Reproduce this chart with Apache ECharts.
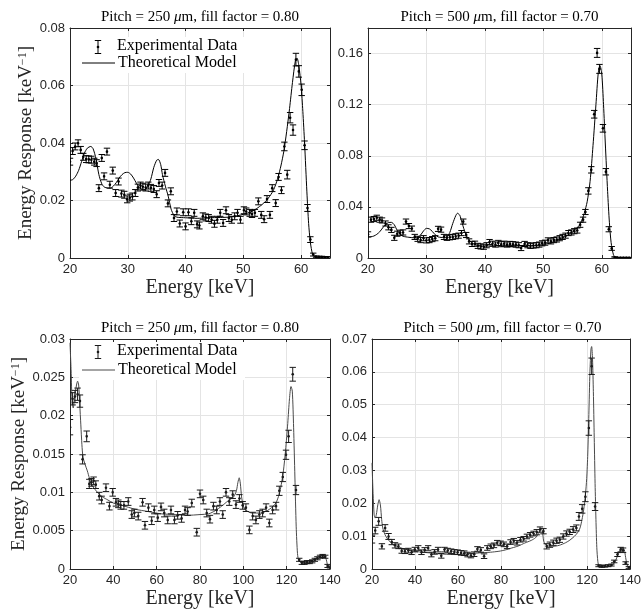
<!DOCTYPE html>
<html><head><meta charset="utf-8">
<script src="https://cdn.jsdelivr.net/npm/echarts@6/dist/echarts.min.js"></script>
<style>html,body{margin:0;padding:0;background:#fff}#c{width:644px;height:615px}</style>
</head><body><div id="c"></div>
<script>
// ---------- Panel titles ----------
const titleA = ['Pitch = 250 ', 'm, fill factor = 0.80'];
const titleB = ['Pitch = 500 ', 'm, fill factor = 0.70'];
const legendNames = ['Experimental Data', 'Theoretical Model'];
const xName = 'Energy [keV]';

// ---------- Top-left: 250 um, Am-241 ----------
const tlE = [20.0,20.45,20.9,21.4,21.85,22.3,22.8,23.25,23.7,24.2,24.6,25.0,25.5,25.9,26.4,26.9,27.4,27.9,28.4,28.9,29.4,29.9,30.35,30.8,31.3,31.75,32.2,32.6,33.1,33.55,34.0,34.5,35.0,35.4,35.95,36.45,36.95,37.45,38.0,38.5,39.0,39.6,40.0,40.5,41.0,41.5,42.0,42.4,43.0,43.5,44.0,44.5,45.0,45.5,46.0,46.5,47.0,47.5,48.0,48.5,49.0,49.5,50.1,50.5,51.1,51.5,52.0,52.6,53.1,53.6,54.1,54.6,55.0,55.6,56.1,56.6,57.1,57.6,58.1,58.6,59.1,59.6,60.1,60.6,61.1,61.6,62.1,62.6,63.1,63.6,64.1,64.6];
const tlY = [.0335,.0372,.0388,.0399,.0376,.0352,.0344,.0343,.0342,.0335,.0330,.0243,.0348,.0284,.0370,.0255,.0304,.0226,.0266,.0224,.0220,.0204,.0210,.0214,.0226,.0245,.0252,.0248,.0245,.0252,.0244,.0240,.0222,.0261,.0252,.0296,.0190,.0232,.0139,.0162,.0120,.0159,.0110,.0159,.0128,.0157,.0117,.0113,.0145,.0141,.0139,.0133,.0119,.0133,.0157,.0122,.0166,.0139,.0133,.0145,.0157,.0133,.0166,.0162,.0157,.0153,.0157,.0197,.0150,.0135,.0205,.0150,.0243,.0191,.0282,.0236,.0388,.0290,.0488,.0445,.0690,.0649,.0585,.0392,.0174,.0064,.0012,.0004,.0003,.0003,.0002,.0002];
const tlErr = [.0012,.0012,.0012,.0012,.0012,.0012,.0012,.0012,.0012,.0012,.0012,.0012,.0012,.0012,.0012,.0012,.0012,.0012,.0012,.0012,.0012,.0012,.0012,.0012,.0012,.0012,.0012,.0012,.0012,.0012,.0012,.0012,.0012,.0012,.0012,.0012,.0012,.0012,.0012,.0012,.0012,.0012,.0012,.0012,.0012,.0012,.0012,.0012,.0012,.0012,.0012,.0012,.0012,.0012,.0012,.0012,.0012,.0012,.0012,.0012,.0012,.0012,.0012,.0012,.0012,.0012,.0012,.0012,.0012,.0012,.0012,.0012,.0012,.0012,.0012,.0012,.0015,.0015,.0018,.0018,.0022,.0020,.0020,.0015,.0012,.0010,.0005,.0003,.0003,.0003,.0003,.0003];
const tlME = [20,20.5,21,21.5,22,22.5,23,23.6,24,24.5,25,25.5,26,27,27.5,28,28.5,29,29.5,30,30.5,31,31.5,32,32.5,33,33.5,34,34.5,35,35.3,35.7,36,36.5,37,37.5,38,38.5,40,42,44,46,48,50,51,52,53,54,55,55.5,56,56.5,57,57.5,58,58.5,59,59.3,59.6,60,60.3,60.6,61,61.3,61.6,62,62.5,63,65];
const tlMY = [.0270,.0273,.0285,.0305,.0335,.0365,.0382,.0388,.0380,.0345,.0290,.0258,.0246,.0243,.0250,.0262,.0278,.0290,.0297,.0298,.0292,.0278,.0260,.0246,.0238,.0238,.0250,.0275,.0315,.0340,.0343,.0325,.0290,.0250,.0215,.0170,.0148,.0142,.0140,.0138,.0140,.0141,.0143,.0152,.0158,.0168,.0182,.0200,.0228,.0250,.0280,.0320,.0370,.0440,.0520,.0610,.0685,.0695,.0670,.0600,.0510,.0400,.0230,.0120,.0055,.0012,.0002,0,0];

// ---------- Top-right: 500 um, Am-241 ----------
const trE = [20.0,20.5,21.0,21.5,22.0,22.4,23.0,23.5,24.0,24.5,25.0,25.5,26.0,26.5,27.0,27.5,28.0,28.5,29.0,29.5,30.0,30.5,31.0,31.5,32.0,32.5,33.0,33.5,34.0,34.5,35.0,35.5,36.0,36.3,36.8,37.3,37.8,38.3,38.8,39.3,39.8,40.3,40.8,41.3,41.8,42.3,42.8,43.3,43.8,44.3,44.8,45.3,45.8,46.2,46.8,47.3,47.8,48.3,48.8,49.3,49.8,50.3,50.8,51.3,51.8,52.3,52.8,53.3,53.8,54.3,54.8,55.3,55.8,56.3,56.8,57.2,57.7,58.2,58.7,59.2,59.6,60.2,60.7,61.2,61.7,62.2,62.7,63.2,63.7,64.2,64.7];
const trY = [.0185,.0300,.0305,.0315,.0300,.0294,.0270,.0240,.0220,.0158,.0190,.0198,.0200,.0285,.0250,.0230,.0165,.0150,.0140,.0155,.0138,.0140,.0148,.0155,.0228,.0222,.0165,.0158,.0162,.0165,.0170,.0175,.0195,.0285,.0180,.0130,.0110,.0112,.0095,.0090,.0088,.0100,.0125,.0112,.0105,.0118,.0108,.0112,.0105,.0110,.0108,.0105,.0100,.0078,.0110,.0100,.0095,.0098,.0100,.0105,.0115,.0120,.0138,.0130,.0140,.0145,.0155,.0165,.0175,.0195,.0200,.0210,.0215,.0260,.0300,.0360,.0525,.0690,.1125,.1605,.1480,.1015,.0675,.0225,.0075,.0005,.0002,.0002,.0002,.0002,.0002];
const trErr = [.002,.002,.002,.002,.002,.002,.002,.002,.002,.002,.002,.002,.002,.002,.002,.002,.002,.002,.002,.002,.002,.002,.002,.002,.002,.002,.002,.002,.002,.002,.002,.002,.002,.002,.002,.002,.002,.002,.002,.002,.002,.002,.002,.002,.002,.002,.002,.002,.002,.002,.002,.002,.002,.002,.002,.002,.002,.002,.002,.002,.002,.002,.002,.002,.002,.002,.002,.002,.002,.002,.002,.002,.002,.002,.002,.002,.0025,.0025,.003,.0035,.0035,.003,.0025,.002,.0015,.0005,.0003,.0003,.0003,.0003,.0003];
const trME = [20,20.5,21,21.5,22,22.5,23,23.5,24,24.5,25,25.5,26,27,28,28.5,29,29.5,30,30.5,31,31.5,32,33,33.5,34,34.5,35,35.3,35.7,36,36.5,37,37.5,38,39,40,42,44,46,48,49,50,51,52,53,54,55,56,56.5,57,57.5,58,58.5,59,59.4,59.7,60,60.3,60.6,61,61.3,61.6,62,62.4,63,65];
const trMY = [.0164,.0166,.0172,.0185,.0205,.0235,.0262,.0277,.0279,.0260,.0215,.0185,.0170,.0162,.0158,.0162,.0180,.0212,.0232,.0228,.0208,.0182,.0165,.0160,.0165,.0200,.0270,.0330,.0350,.0335,.0290,.0215,.0160,.0130,.0112,.0097,.0093,.0095,.0097,.0097,.0096,.0098,.0104,.0115,.0132,.0152,.0175,.0205,.0247,.0285,.0350,.0440,.0600,.0880,.1200,.1450,.1505,.1440,.1200,.0900,.0520,.0280,.0120,.0025,.0003,0,0];

// ---------- Bottom-left: 250 um, Co-57 ----------
const blE = [20.0,21.2,22.3,23.5,24.6,25.8,27.7,28.9,29.9,30.9,31.9,33.5,34.6,36.6,38.2,39.7,41.2,42.3,43.4,44.9,46.9,48.5,49.7,51.5,53.5,54.6,56.2,57.7,58.9,60.5,62.0,63.5,65.1,66.6,68.2,69.7,71.5,73.1,74.3,76.2,78.5,80.0,81.5,83.1,84.6,86.2,87.7,89.2,90.5,92.0,93.5,95.1,96.6,98.2,99.7,101.2,102.8,104.3,105.8,107.4,108.9,110.5,112.0,113.5,115.1,116.6,118.2,119.7,120.9,122.8,124.3,125.8,127.0,128.2,129.4,130.6,131.8,133.0,134.2,135.4,136.6,137.8,138.9,140.0];
const blY = [.0185,.0222,.0225,.0228,.0219,.0143,.0173,.0111,.0113,.0115,.0110,.0095,.0090,.0106,.0082,.0100,.0087,.0085,.0083,.0083,.0088,.0071,.0073,.0069,.0087,.0057,.0080,.0063,.0077,.0067,.0081,.0073,.0064,.0077,.0064,.0070,.0066,.0077,.0075,.0086,.0048,.0098,.0090,.0073,.0065,.0082,.0077,.0088,.0071,.0100,.0088,.0097,.0084,.0092,.0083,.0080,.0051,.0069,.0064,.0071,.0073,.0080,.0060,.0077,.0082,.0102,.0120,.0149,.0173,.0254,.0103,.0012,.0008,.0008,.0009,.0009,.0010,.0012,.0014,.0016,.0017,.0016,.0004,.0002];
const blErr = [.0010,.0008,.0008,.0008,.0008,.0006,.0007,.0006,.0005,.0005,.0005,.0005,.0005,.0005,.0005,.0005,.0005,.0005,.0005,.0005,.0005,.0005,.0005,.0005,.0005,.0005,.0005,.0005,.0005,.0005,.0005,.0005,.0005,.0005,.0005,.0005,.0005,.0005,.0005,.0005,.0005,.0005,.0005,.0005,.0005,.0005,.0005,.0005,.0005,.0005,.0005,.0005,.0005,.0005,.0005,.0005,.0005,.0005,.0005,.0005,.0005,.0005,.0005,.0005,.0005,.0006,.0006,.0006,.0008,.0009,.0006,.0002,.0002,.0002,.0002,.0002,.0002,.0002,.0002,.0002,.0002,.0002,.0002,.0002];
const blME = [20,20.5,21,21.5,22,23,23.5,24,24.5,25,25.5,26,27,28,29,30,31.5,33,35,37.5,40,44,50,56,62,68,74,80,84,87,90,93,95.5,96.8,97.5,98.1,98.6,99.2,100,101,104,108,111,113,115,116.5,117.5,118.5,119.5,120.5,121.3,122,122.6,123.2,123.8,124.4,125,125.6,127,129,131,133,135,136.5,137.5,138.3,139,140];
const blMY = [.0295,.0260,.0215,.0210,.0222,.0240,.0245,.0240,.0215,.0188,.0162,.0146,.0136,.0128,.0118,.0110,.0104,.0099,.0094,.0090,.0086,.0083,.0078,.0075,.0072,.0071,.0070,.0071,.0072,.0076,.0082,.0089,.0094,.0102,.0113,.0119,.0112,.0094,.0082,.0077,.0073,.0073,.0076,.0080,.0086,.0097,.0110,.0128,.0155,.0190,.0222,.0238,.0232,.0185,.0120,.0055,.0020,.0011,.0008,.0008,.0010,.0013,.0016,.0018,.0018,.0012,.0004,.0002];

// ---------- Bottom-right: 500 um, Co-57 ----------
const brE = [20.0,21.5,23.1,24.6,26.1,27.7,29.2,30.7,32.3,33.8,35.3,36.9,38.4,39.9,41.5,43.0,44.5,46.1,47.6,49.1,50.7,52.2,53.7,55.2,56.8,58.3,59.8,61.4,62.9,64.4,66.0,67.5,69.0,70.6,72.1,73.6,75.2,76.7,78.2,79.8,81.3,82.8,84.4,85.9,87.4,89.0,90.5,92.0,93.5,95.1,96.6,98.1,99.7,101.2,102.7,104.3,105.8,107.3,108.9,110.4,111.9,113.5,115.0,116.2,117.7,119.2,120.8,122.1,123.7,125.3,126.8,128.3,129.8,131.3,132.6,134.1,135.6,136.7,137.9,139.4];
const brY = [.0091,.0117,.0145,.0069,.0125,.0099,.0082,.0072,.0069,.0055,.0054,.0056,.0051,.0059,.0064,.0051,.0058,.0064,.0044,.0052,.0059,.0040,.0059,.0056,.0054,.0052,.0051,.0049,.0048,.0044,.0041,.0045,.0061,.0058,.0039,.0064,.0069,.0072,.0080,.0078,.0075,.0069,.0082,.0086,.0080,.0089,.0092,.0099,.0104,.0108,.0112,.0120,.0115,.0069,.0074,.0080,.0086,.0089,.0099,.0108,.0113,.0120,.0125,.0160,.0183,.0220,.0429,.0617,.0190,.0010,.0008,.0009,.0010,.0012,.0023,.0044,.0059,.0057,.0018,.0005];
const brErr = [.0012,.0010,.0012,.0008,.0010,.0009,.0008,.0008,.0007,.0007,.0007,.0007,.0007,.0007,.0007,.0007,.0007,.0007,.0007,.0007,.0007,.0007,.0007,.0007,.0007,.0007,.0007,.0007,.0007,.0007,.0007,.0007,.0007,.0007,.0007,.0007,.0007,.0007,.0007,.0007,.0007,.0007,.0007,.0007,.0007,.0007,.0007,.0007,.0007,.0007,.0008,.0008,.0008,.0008,.0008,.0008,.0008,.0008,.0008,.0008,.0008,.0009,.0009,.0012,.0013,.0015,.0022,.0025,.0012,.0003,.0003,.0003,.0003,.0003,.0004,.0006,.0007,.0007,.0004,.0003];
const brME = [20,20.5,21,21.5,22,22.7,23.3,23.9,24.5,25,26,27,28.5,30,31.5,34,37.5,42,47,52,57.5,63,70,75,79,82,85,88,91,94,96,97.5,98.5,99.2,99.8,100.5,102,104,107,110,112,114,115.5,116.7,117.6,118.4,119.2,119.8,120.3,120.8,121.3,121.8,122.1,122.5,122.9,123.3,123.7,124.1,124.5,125,125.6,127,129,131,132.5,133.5,134.5,135.5,136.5,137.3,137.9,138.5,139.2,140];
const brMY = [.0323,.0230,.0165,.0155,.0165,.0195,.0211,.0195,.0150,.0125,.0105,.0094,.0082,.0074,.0069,.0063,.0057,.0052,.0049,.0046,.0044,.0045,.0049,.0051,.0054,.0058,.0064,.0070,.0079,.0087,.0095,.0108,.0125,.0115,.0085,.0075,.0070,.0069,.0072,.0080,.0088,.0099,.0110,.0125,.0150,.0180,.0225,.0275,.0350,.0470,.0600,.0670,.0677,.0640,.0540,.0400,.0260,.0150,.0065,.0022,.0008,.0007,.0007,.0009,.0017,.0030,.0046,.0060,.0064,.0058,.0035,.0015,.0005,.0002];

// axis ranges
const xRangeTop = [20, 65, 10];
const xRangeBot = [20, 140, 20];
const yRanges = [[0, 0.08, 0.02], [0, 0.18, 0.04], [0, 0.03, 0.005], [0, 0.07, 0.01]];

// ---------- layout / build ----------
const grids = [
  {left: 70, top: 28, width: 260, height: 230},
  {left: 368, top: 28, width: 263, height: 230},
  {left: 70, top: 339, width: 260, height: 230},
  {left: 372, top: 339, width: 261, height: 230}
];
const panels = [
  {E: tlE, Y: tlY, Err: tlErr, ME: tlME, MY: tlMY, xr: xRangeTop, yr: yRanges[0], title: titleA, yName: true, lineColor: '#000', barColor: '#000'},
  {E: trE, Y: trY, Err: trErr, ME: trME, MY: trMY, xr: xRangeTop, yr: yRanges[1], title: titleB, yName: false, lineColor: '#000', barColor: '#000'},
  {E: blE, Y: blY, Err: blErr, ME: blME, MY: blMY, xr: xRangeBot, yr: yRanges[2], title: titleA, yName: true, lineColor: '#4a4a4a', barColor: '#1a1a1a'},
  {E: brE, Y: brY, Err: brErr, ME: brME, MY: brMY, xr: xRangeBot, yr: yRanges[3], title: titleB, yName: false, lineColor: '#4a4a4a', barColor: '#1a1a1a'}
];

const AX = '#262626';
const GRIDC = '#e4e4e4';
const SERIF = 'Liberation Serif';
const SANS = 'Liberation Sans';

const xAxis = [], yAxis = [], series = [], graphic = [];
panels.forEach((p, g) => {
  const [xmin, xmax, xint] = p.xr;
  const [ymin, ymax, yint] = p.yr;
  const xMaxOnTick = Math.abs(Math.round(xmax / xint) * xint - xmax) < 1e-9;
  const yMaxOnTick = Math.abs(Math.round(ymax / yint) * yint - ymax) < 1e-9;
  xAxis.push({
    gridIndex: g, type: 'value', min: xmin, max: xmax, interval: xint, position: 'bottom',
    axisLine: {show: true, onZero: false, lineStyle: {color: AX, width: 1}},
    axisTick: {show: true, inside: true, length: 3, lineStyle: {color: AX}},
    axisLabel: {color: AX, fontFamily: SANS, fontSize: 13, margin: 5, showMaxLabel: xMaxOnTick},
    splitLine: {show: true, lineStyle: {color: GRIDC, width: 1}},
    name: xName, nameLocation: 'middle', nameGap: 20,
    nameTextStyle: {fontFamily: SERIF, fontSize: 20, color: AX}
  });
  xAxis.push({
    gridIndex: g, type: 'value', min: xmin, max: xmax, interval: xint, position: 'top',
    axisLine: {show: true, onZero: false, lineStyle: {color: AX, width: 1}},
    axisTick: {show: true, inside: true, length: 3, lineStyle: {color: AX}},
    axisLabel: {show: false}, splitLine: {show: false}
  });
  const yl = {
    gridIndex: g, type: 'value', min: ymin, max: ymax, interval: yint, position: 'left',
    axisLine: {show: true, onZero: false, lineStyle: {color: AX, width: 1}},
    axisTick: {show: true, inside: true, length: 3, lineStyle: {color: AX}},
    axisLabel: {color: AX, fontFamily: SANS, fontSize: 13, margin: 5, showMaxLabel: yMaxOnTick},
    splitLine: {show: true, lineStyle: {color: GRIDC, width: 1}}
  };
  if (p.yName) {
    yl.name = 'Energy Response [keV{s|−1}]';
    yl.nameLocation = 'middle';
    yl.nameGap = 31;
    yl.nameTextStyle = {fontFamily: SERIF, fontSize: 19, color: AX,
      rich: {s: {fontFamily: SERIF, fontSize: 12, color: AX, verticalAlign: 'top'}}};
  }
  yAxis.push(yl);
  yAxis.push({
    gridIndex: g, type: 'value', min: ymin, max: ymax, interval: yint, position: 'right',
    axisLine: {show: true, onZero: false, lineStyle: {color: AX, width: 1}},
    axisTick: {show: true, inside: true, length: 3, lineStyle: {color: AX}},
    axisLabel: {show: false}, splitLine: {show: false}
  });

  series.push({
    type: 'line', xAxisIndex: 2 * g, yAxisIndex: 2 * g,
    data: p.ME.map((e, i) => [e, p.MY[i]]),
    showSymbol: false, symbol: 'none', smooth: 0.25,
    lineStyle: {color: p.lineColor, width: 1}, z: 2, silent: true, animation: false
  });
  const col = p.barColor;
  series.push({
    type: 'custom', xAxisIndex: 2 * g, yAxisIndex: 2 * g, clip: true, z: 3, animation: false, silent: true,
    data: p.E.map((e, i) => [e, p.Y[i], p.Err[i]]),
    renderItem: function (params, api) {
      const x = api.value(0), y = api.value(1), er = api.value(2);
      const c = api.coord([x, y]);
      const hi = api.coord([x, y + er]);
      const lo = api.coord([x, y - er]);
      const w = 3.2;
      const st = {stroke: col, lineWidth: 1, fill: null};
      return {type: 'group', children: [
        {type: 'line', shape: {x1: c[0], y1: hi[1], x2: c[0], y2: lo[1]}, style: st},
        {type: 'line', shape: {x1: c[0] - w, y1: hi[1], x2: c[0] + w, y2: hi[1]}, style: st},
        {type: 'line', shape: {x1: c[0] - w, y1: lo[1], x2: c[0] + w, y2: lo[1]}, style: st},
        {type: 'circle', shape: {cx: c[0], cy: c[1], r: 1.3}, style: {fill: col}}
      ]};
    }
  });

  // panel title
  const gr = grids[g];
  graphic.push({
    type: 'text', x: gr.left + gr.width / 2, y: gr.top - 11,
    style: {
      text: '{n|' + p.title[0] + '}{i|μ}{n|' + p.title[1] + '}',
      align: 'center', verticalAlign: 'middle',
      rich: {
        n: {fontFamily: SERIF, fontSize: 15, fill: '#000'},
        i: {fontFamily: SERIF, fontSize: 15, fontStyle: 'italic', fill: '#000'}
      }
    }
  });
});

// legends (top-left and bottom-left panels), white box without border
[[0, '#000', '#000', 19, 35], [2, '#4a4a4a', '#1a1a1a', 13, 31]].forEach(([g, lc, bc, eOff, lOff]) => {
  const gr = grids[g];
  const ex = gr.left + 28, ey = gr.top + eOff;
  const ly = gr.top + lOff;
  const st = {stroke: bc, lineWidth: 1};
  graphic.push(
    {type: 'rect', z: 10, shape: {x: gr.left + 9, y: ey - 10, width: 166, height: ly - ey + 20}, style: {fill: '#fff'}},
    {type: 'line', z: 11, shape: {x1: ex, y1: ey - 6.5, x2: ex, y2: ey + 6.5}, style: st},
    {type: 'line', z: 11, shape: {x1: ex - 3.2, y1: ey - 6.5, x2: ex + 3.2, y2: ey - 6.5}, style: st},
    {type: 'line', z: 11, shape: {x1: ex - 3.2, y1: ey + 6.5, x2: ex + 3.2, y2: ey + 6.5}, style: st},
    {type: 'circle', z: 11, shape: {cx: ex, cy: ey, r: 1.3}, style: {fill: bc}},
    {type: 'text', z: 11, x: gr.left + 47, y: ey - 1, style: {text: legendNames[0], fontFamily: SERIF, fontSize: 16, fill: '#000', verticalAlign: 'middle'}},
    {type: 'line', z: 11, shape: {x1: gr.left + 12, y1: ly, x2: gr.left + 45, y2: ly}, style: {stroke: lc, lineWidth: 1}},
    {type: 'text', z: 11, x: gr.left + 48, y: ly, style: {text: legendNames[1], fontFamily: SERIF, fontSize: 16, fill: '#000', verticalAlign: 'middle'}}
  );
});

const chart = echarts.init(document.getElementById('c'), null, {renderer: 'canvas'});
chart.setOption({
  animation: false,
  backgroundColor: '#fff',
  grid: grids,
  xAxis: xAxis,
  yAxis: yAxis,
  series: series,
  graphic: graphic
});
</script>
</body></html>
